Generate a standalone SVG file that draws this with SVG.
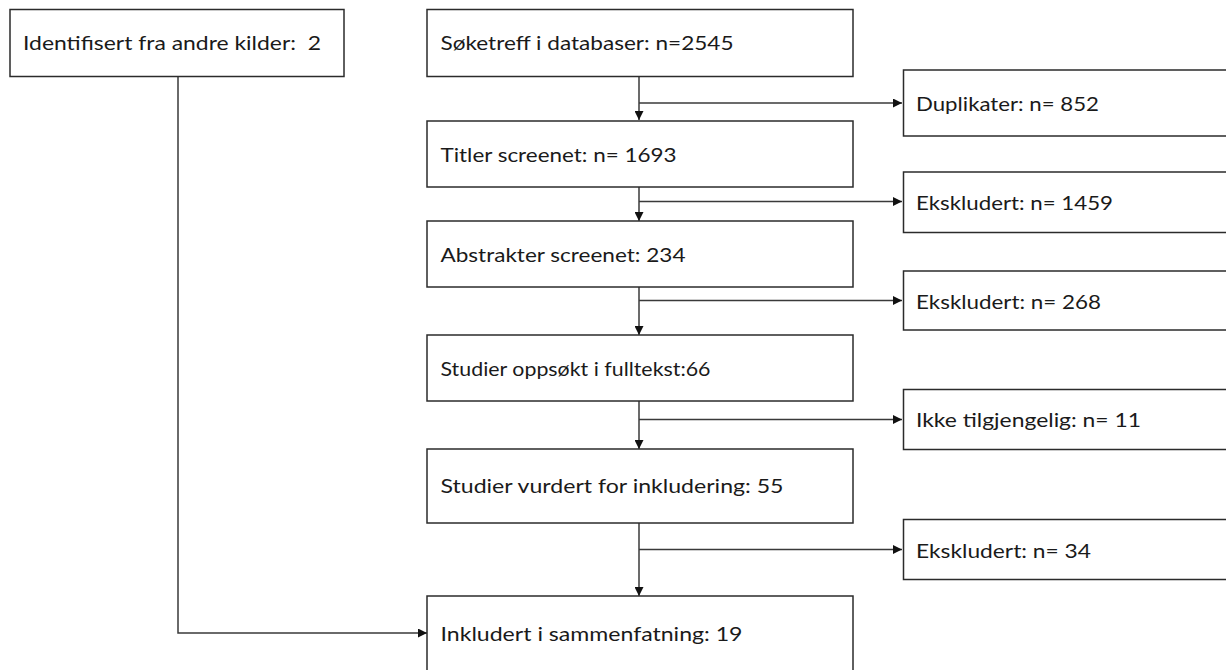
<svg xmlns="http://www.w3.org/2000/svg" width="1226" height="670" viewBox="0 0 1226 670">
<defs>
<style>
.box{fill:#ffffff;stroke:#2b2b2b;stroke-width:1.5}
.lbl{font-family:Lato,"Liberation Sans",sans-serif;font-size:20px;fill:#1a1a1a}
.con{fill:none;stroke:#3a3a3a;stroke-width:1.5}
</style>
<marker id="ahv" viewBox="0 0 10 10" refX="10" refY="5" markerWidth="10" markerHeight="9" markerUnits="userSpaceOnUse" orient="auto"><path d="M0,0 L10,5 L0,10 Z" fill="#111"/></marker>
</defs>
<rect width="1226" height="670" fill="#ffffff"/>
<g id="connectors">
<path class="con" d="M639,76 V120" marker-end="url(#ahv)"/>
<path class="con" d="M639,103 H902" marker-end="url(#ahv)"/>
<path class="con" d="M639,187 V221" marker-end="url(#ahv)"/>
<path class="con" d="M639,201.5 H902" marker-end="url(#ahv)"/>
<path class="con" d="M639,287 V335" marker-end="url(#ahv)"/>
<path class="con" d="M639,300.5 H902" marker-end="url(#ahv)"/>
<path class="con" d="M639,401 V449" marker-end="url(#ahv)"/>
<path class="con" d="M639,419.5 H902" marker-end="url(#ahv)"/>
<path class="con" d="M639,523 V596" marker-end="url(#ahv)"/>
<path class="con" d="M639,549.5 H902" marker-end="url(#ahv)"/>
<path class="con" d="M178,76.5 V633 H427" marker-end="url(#ahv)"/>
</g>
<g id="n-andre">
<rect class="box" x="10" y="9.5" width="334" height="67"/>
<text class="lbl" x="23" y="50" textLength="298" lengthAdjust="spacingAndGlyphs" xml:space="preserve">Identifisert fra andre kilder:  2</text>
</g>
<g id="n-soketreff">
<rect class="box" x="427" y="9.5" width="426" height="67"/>
<text class="lbl" x="440.5" y="50" textLength="293" lengthAdjust="spacingAndGlyphs">Søketreff i databaser: n=2545</text>
</g>
<g id="n-titler">
<rect class="box" x="427" y="121" width="426" height="66"/>
<text class="lbl" x="440.5" y="162" textLength="236" lengthAdjust="spacingAndGlyphs">Titler screenet: n= 1693</text>
</g>
<g id="n-abstrakter">
<rect class="box" x="427" y="221" width="426" height="66"/>
<text class="lbl" x="440.5" y="261.5" textLength="245" lengthAdjust="spacingAndGlyphs">Abstrakter screenet: 234</text>
</g>
<g id="n-fulltekst">
<rect class="box" x="427" y="335" width="426" height="66"/>
<text class="lbl" x="440.5" y="375.5" textLength="270" lengthAdjust="spacingAndGlyphs">Studier oppsøkt i fulltekst:66</text>
</g>
<g id="n-vurdert">
<rect class="box" x="427" y="449" width="426" height="74"/>
<text class="lbl" x="440.5" y="493" textLength="343" lengthAdjust="spacingAndGlyphs">Studier vurdert for inkludering: 55</text>
</g>
<g id="n-inkludert">
<rect class="box" x="427" y="596" width="426" height="90"/>
<text class="lbl" x="440.5" y="640.5" textLength="302" lengthAdjust="spacingAndGlyphs">Inkludert i sammenfatning: 19</text>
</g>
<g id="n-duplikater">
<rect class="box" x="903.5" y="70" width="340" height="66"/>
<text class="lbl" x="916" y="111" textLength="183" lengthAdjust="spacingAndGlyphs">Duplikater: n= 852</text>
</g>
<g id="n-eksk1459">
<rect class="box" x="903.5" y="172" width="340" height="60.5"/>
<text class="lbl" x="916" y="209.5" textLength="197" lengthAdjust="spacingAndGlyphs">Ekskludert: n= 1459</text>
</g>
<g id="n-eksk268">
<rect class="box" x="903.5" y="271" width="340" height="59"/>
<text class="lbl" x="916" y="308.5" textLength="185" lengthAdjust="spacingAndGlyphs">Ekskludert: n= 268</text>
</g>
<g id="n-ikke">
<rect class="box" x="903.5" y="389.5" width="340" height="60"/>
<text class="lbl" x="916" y="427" textLength="225" lengthAdjust="spacingAndGlyphs">Ikke tilgjengelig: n= 11</text>
</g>
<g id="n-eksk34">
<rect class="box" x="903.5" y="519.5" width="340" height="60"/>
<text class="lbl" x="916" y="557.5" textLength="175" lengthAdjust="spacingAndGlyphs">Ekskludert: n= 34</text>
</g>
</svg>
